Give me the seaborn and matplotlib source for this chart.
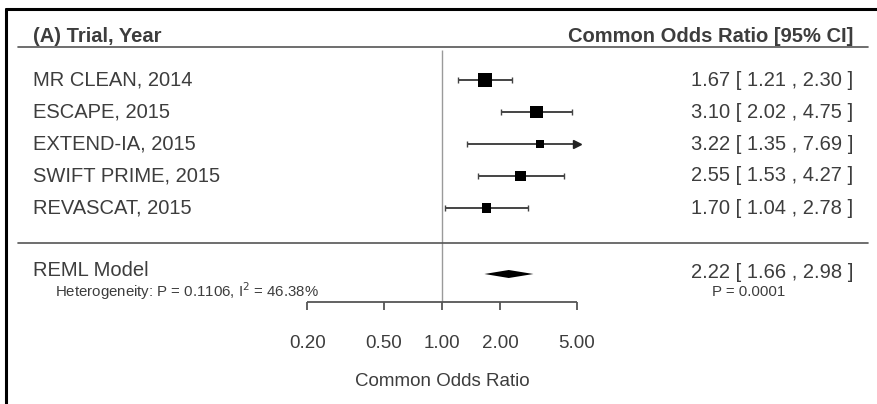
import numpy as np
import pandas as pd
import matplotlib
matplotlib.use("Agg")
import matplotlib.pyplot as plt
import seaborn as sns

# ---------------- data ----------------
studies = ["MR CLEAN, 2014", "ESCAPE, 2015", "EXTEND-IA, 2015",
           "SWIFT PRIME, 2015", "REVASCAT, 2015"]
odds_ratio = [1.67, 3.10, 3.22, 2.55, 1.70]
ci_low = [1.21, 2.02, 1.35, 1.53, 1.04]
ci_high = [2.30, 4.75, 7.69, 4.27, 2.78]
weights = [24.7, 19.0, 8.5, 14.2, 12.1]          # relative study weights (estimated)

pooled_label = "REML Model"
pooled_or = 2.22
pooled_low = 1.66
pooled_high = 2.98
pooled_p = "P = 0.0001"
heterogeneity = "Heterogeneity: P = 0.1106, I$^2$ = 46.38%"

tick_values = [0.20, 0.50, 1.00, 2.00, 5.00]
tick_labels = ["0.20", "0.50", "1.00", "2.00", "5.00"]
left_header = "(A) Trial, Year"
right_header = "Common Odds Ratio [95% CI]"
x_label = "Common Odds Ratio"

# ---------------- layout ----------------
W, H = 877, 404
sns.set_theme(style="white")
plt.rcParams["font.family"] = ["Liberation Sans", "DejaVu Sans"]

fig = plt.figure(figsize=(W / 100, H / 100), dpi=100)
ax = fig.add_axes([0, 0, 1, 1])
x_ref_px, px_per_ln = 442.0, 83.7
TXT = "#3d3d3d"
LINE = "#555555"
FS = 14.5
alim = (min(tick_values), max(tick_values))


def fx(px):
    return px / W


def fy(py):
    return 1 - py / H


row_y = [80 + 32 * i for i in range(len(studies))]
pooled_y = 274

# study squares sized by weight
df = pd.DataFrame({"study": studies, "or": odds_ratio, "y": row_y, "w": weights})
sns.scatterplot(data=df, x="or", y="y", size="w", sizes=(30, 112), marker="s",
                color="black", edgecolor="none", linewidth=0, legend=False,
                ax=ax, zorder=4)
ax.set_xscale("log")
ax.set_xlim(np.exp(-x_ref_px / px_per_ln), np.exp((W - x_ref_px) / px_per_ln))
ax.set_ylim(H, 0)
ax.axis("off")

# border (cropped frame)
fig.add_artist(plt.Line2D([fx(6), fx(6)], [fy(9), 0], color="black", lw=2.2))
fig.add_artist(plt.Line2D([fx(6), 1], [fy(9), fy(9)], color="black", lw=2.2))

# header and separator lines
for yy in (47, 243):
    fig.add_artist(plt.Line2D([fx(18), fx(868)], [fy(yy), fy(yy)], color=LINE, lw=1.2))

# headers
fig.text(fx(33), fy(37), left_header, fontsize=FS, fontweight="bold", color=TXT,
         ha="left", va="center")
fig.text(fx(853), fy(37), right_header, fontsize=FS, fontweight="bold", color=TXT,
         ha="right", va="center")

# reference line at OR = 1
ax.vlines(1.0, 50, 302, color="#9a9a9a", lw=1.0, zorder=1)

# CI lines
for y, lo, hi in zip(row_y, ci_low, ci_high):
    lo_c, hi_c = max(lo, alim[0]), min(hi, alim[1])
    ax.hlines(y, lo_c, hi_c, color="#444444", lw=1.4, zorder=2)
    if hi > alim[1]:
        ax.plot([hi_c], [y], marker=">", color="#222222", ms=6, zorder=3)
    else:
        ax.vlines(hi_c, y - 3, y + 3, color="#444444", lw=1.0)
    if lo < alim[0]:
        ax.plot([lo_c], [y], marker="<", color="#222222", ms=6, zorder=3)
    else:
        ax.vlines(lo_c, y - 3, y + 3, color="#444444", lw=1.0)

# pooled diamond
ax.fill([pooled_low, pooled_or, pooled_high, pooled_or],
        [pooled_y, pooled_y - 4, pooled_y, pooled_y + 4],
        color="black", lw=0, zorder=4)

# left labels and right values
for y, name, est, lo, hi in zip(row_y, studies, odds_ratio, ci_low, ci_high):
    fig.text(fx(33), fy(y), name, fontsize=FS, color=TXT, ha="left", va="center")
    fig.text(fx(853), fy(y), f"{est:.2f} [ {lo:.2f} , {hi:.2f} ]", fontsize=FS,
             color=TXT, ha="right", va="center")

fig.text(fx(33), fy(270), pooled_label, fontsize=FS, color=TXT,
         ha="left", va="center")
fig.text(fx(55), fy(291), heterogeneity, fontsize=10.8, color=TXT,
         ha="left", va="center")
fig.text(fx(853), fy(pooled_y - 1),
         f"{pooled_or:.2f} [ {pooled_low:.2f} , {pooled_high:.2f} ]",
         fontsize=FS, color=TXT, ha="right", va="center")
fig.text(fx(749), fy(292), pooled_p, fontsize=10.8, color=TXT, ha="center", va="center")

# x axis
ax.hlines(302, alim[0], alim[1], color=LINE, lw=1.3)
for v, lab in zip(tick_values, tick_labels):
    ax.vlines(v, 302, 310, color=LINE, lw=1.3)
    ax.text(v, 343, lab, fontsize=13.5, color=TXT, ha="center", va="center")
fig.text(fx(442), fy(382), x_label, fontsize=13.5, color=TXT, ha="center", va="center")

fig.savefig("out.png", dpi=100, facecolor="white")
